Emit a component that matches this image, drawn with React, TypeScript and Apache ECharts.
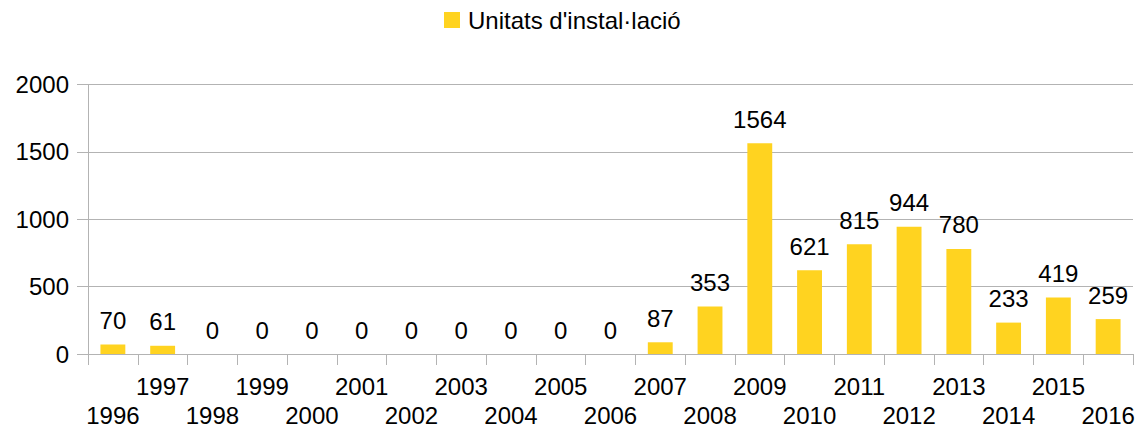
import React, { useEffect, useRef } from "react";
import * as echarts from "echarts";

const categories = ["1996","1997","1998","1999","2000","2001","2002","2003","2004","2005","2006","2007","2008","2009","2010","2011","2012","2013","2014","2015","2016"];
const values = [70,61,0,0,0,0,0,0,0,0,0,87,353,1564,621,815,944,780,233,419,259];
const seriesName = "Unitats d'instal·lació";
const yTicks = { min: 0, max: 2000, interval: 500 };

export default function App() {
  const ref = useRef<HTMLDivElement>(null);
  useEffect(() => {
    const chart = echarts.init(ref.current!, null, { renderer: "svg" });
    const font = "'Liberation Sans', Arial, sans-serif";
    chart.setOption({
      animation: false,
      textStyle: { fontFamily: font },
      legend: {
        top: 8,
        left: 444,
        padding: 0,
        itemWidth: 16,
        itemHeight: 16,
        icon: "rect",
        textStyle: { fontSize: 24, color: "#000", fontFamily: font, padding: [0, 0, 0, 3] },
        data: [seriesName],
      },
      grid: { left: 88, right: 8, top: 84.5, bottom: 75, containLabel: false, outerBoundsMode: "none" },
      xAxis: {
        type: "category",
        data: categories,
        boundaryGap: true,
        axisLine: { lineStyle: { color: "#b3b3b3", width: 1 } },
        axisTick: { show: true, interval: 0, length: 11, lineStyle: { color: "#b3b3b3" } },
        axisLabel: {
          interval: 0,
          margin: 21,
          color: "#000",
          fontSize: 24,
          fontFamily: font,
          formatter: (v: string, i: number) => (i % 2 === 0 ? "{s| }\n{y|" + v + "}" : "{y|" + v + "}"),
          rich: {
            s: { lineHeight: 29, fontSize: 24, fontFamily: font },
            y: { lineHeight: 22, fontSize: 24, color: "#000", fontFamily: font },
          },
        },
      },
      yAxis: {
        type: "value",
        min: yTicks.min,
        max: yTicks.max,
        interval: yTicks.interval,
        axisLine: { show: true, lineStyle: { color: "#b3b3b3" } },
        axisTick: { show: true, length: 11, lineStyle: { color: "#b3b3b3" } },
        axisLabel: { color: "#000", fontSize: 24, margin: 19, fontFamily: font, formatter: (v: number) => String(v) },
        splitLine: { lineStyle: { color: "#b3b3b3", width: 1 } },
      },
      series: [
        {
          name: seriesName,
          type: "bar",
          data: values,
          barWidth: "50%",
          itemStyle: { color: "#ffd320" },
          label: {
            show: true,
            position: "top",
            distance: 12,
            color: "#000",
            fontSize: 24,
            fontFamily: font,
          },
        },
      ],
    });
    return () => chart.dispose();
  }, []);
  return (
    <div
      ref={ref}
      style={{ position: "fixed", left: 0, top: 0, width: 1141, height: 429, background: "#fff" }}
    />
  );
}
